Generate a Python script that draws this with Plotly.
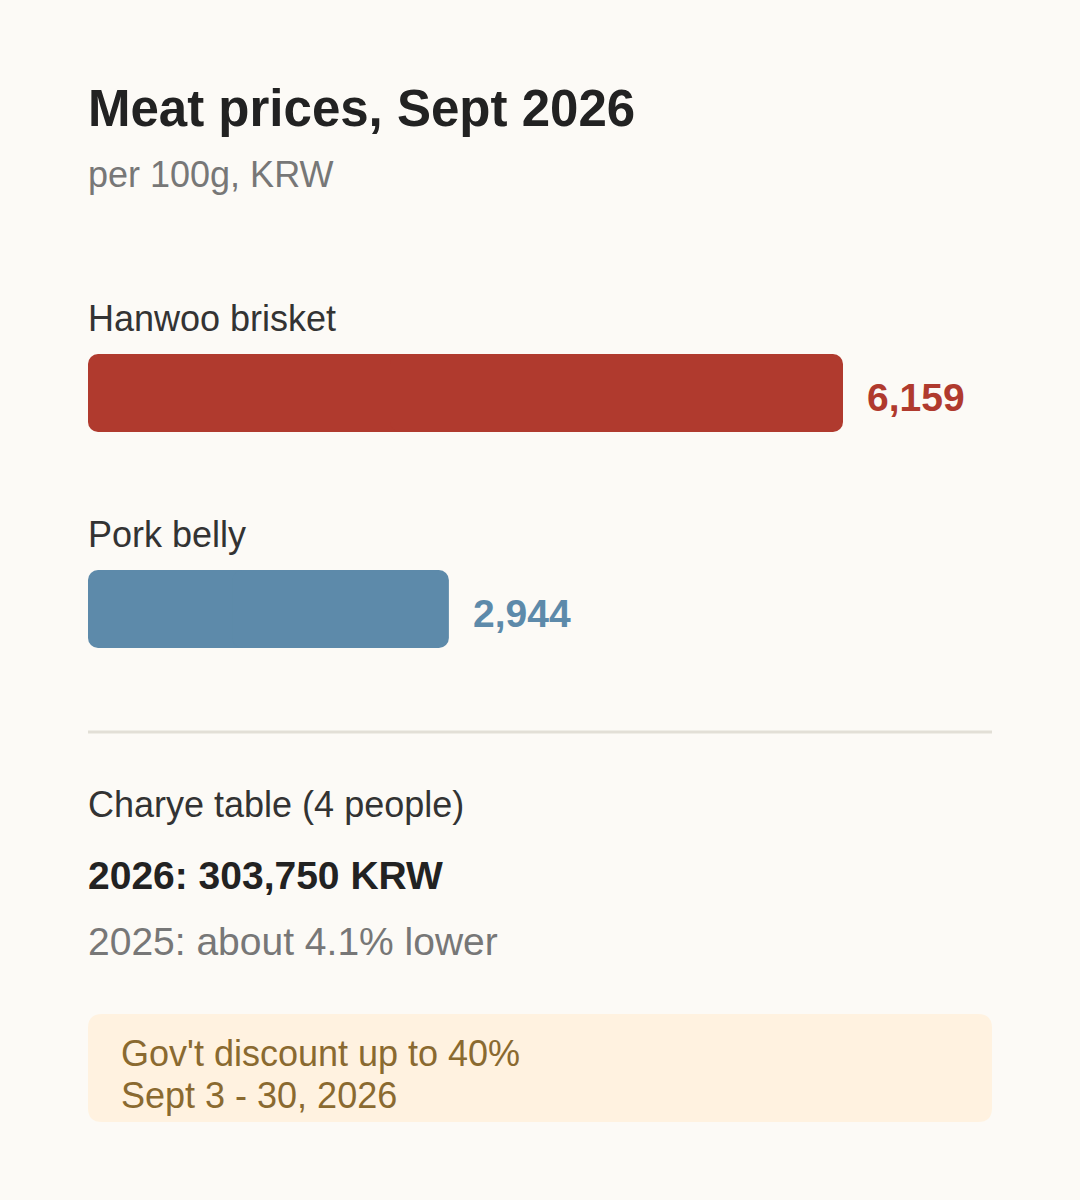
import plotly.graph_objects as go

# data
meats = ["Hanwoo brisket", "Pork belly"]
prices = [6159, 2944]
bar_colors = ["#b03a2e", "#5d8aaa"]

title = "Meat prices, Sept 2026"
subtitle = "per 100g, KRW"
table_label = "Charye table (4 people)"
table_2026 = "2026: 303,750 KRW"
table_2025 = "2025: about 4.1% lower"
discount_lines = ["Gov't discount up to 40%", "Sept 3 - 30, 2026"]

W, H = 1080, 1200
FONT = "Liberation Sans, Arial, sans-serif"
BG = "#fcfaf6"


def px(x):
    return x / W


def py(y):
    return 1 - y / H


# bar area: pixels 88..992 horizontally, 300..700 vertically
x_left, x_right = 88, 992
y_top, y_bot = 300, 700
step = 216          # px between bar centres
first_centre = 393
x_max = prices[0] * (x_right - x_left) / 755.0

top_val = -(first_centre - y_top) / step
bot_val = top_val + (y_bot - y_top) / step

rows = list(range(len(meats)))
fig = go.Figure()
# plotly only rounds the far end of a bar, so each bar is drawn as two
# overlapping halves growing away from the middle -> all corners rounded
fig.add_trace(go.Bar(
    x=[-p * 0.6 for p in prices], base=[p * 0.6 for p in prices],
    y=rows, orientation="h", width=78 / step,
    marker=dict(color=bar_colors, line=dict(width=0)),
    hoverinfo="skip",
))
fig.add_trace(go.Bar(
    x=[p * 0.6 for p in prices], base=[p * 0.4 for p in prices],
    y=rows, orientation="h", width=78 / step,
    marker=dict(color=bar_colors, line=dict(width=0)),
    hoverinfo="skip",
))

annotations = []
for i, (name, val, col) in enumerate(zip(meats, prices, bar_colors)):
    annotations.append(dict(
        x=0, y=i, xref="x", yref="y", xshift=-2, yshift=75, text=name,
        xanchor="left", yanchor="middle", showarrow=False,
        font=dict(family=FONT, size=36, color="#333333"),
    ))
    annotations.append(dict(
        x=val, y=i, xref="x", yref="y", xshift=22, yshift=-4,
        text="<b>{:,}</b>".format(val),
        xanchor="left", yanchor="middle", showarrow=False,
        font=dict(family=FONT, size=39, color=col),
    ))


def text_at(y, text, size, color, x=86):
    annotations.append(dict(
        x=px(x), y=py(y), xref="paper", yref="paper", text=text,
        xanchor="left", yanchor="middle", showarrow=False,
        font=dict(family=FONT, size=size, color=color),
    ))


text_at(109, "<b>" + title + "</b>", 51, "#222222")
text_at(174, subtitle, 36, "#777777")
text_at(804, table_label, 36, "#333333")
text_at(875, "<b>" + table_2026 + "</b>", 39, "#222222")
text_at(941, table_2025, 39, "#777777")
text_at(1053, discount_lines[0], 36, "#8a6a30", x=119)
text_at(1095, discount_lines[1], 36, "#8a6a30", x=119)


def rounded_rect(x0, y0, x1, y1, r):
    # path in paper coordinates, built from pixel corners
    pts = [
        f"M {px(x0 + r)},{py(y0)}",
        f"L {px(x1 - r)},{py(y0)}",
        f"Q {px(x1)},{py(y0)} {px(x1)},{py(y0 + r)}",
        f"L {px(x1)},{py(y1 - r)}",
        f"Q {px(x1)},{py(y1)} {px(x1 - r)},{py(y1)}",
        f"L {px(x0 + r)},{py(y1)}",
        f"Q {px(x0)},{py(y1)} {px(x0)},{py(y1 - r)}",
        f"L {px(x0)},{py(y0 + r)}",
        f"Q {px(x0)},{py(y0)} {px(x0 + r)},{py(y0)}",
        "Z",
    ]
    return " ".join(pts)


shapes = [
    dict(type="line", xref="paper", yref="paper",
         x0=px(88), x1=px(992), y0=py(732), y1=py(732),
         line=dict(color="#e2dfd6", width=3)),
    dict(type="path", xref="paper", yref="paper",
         path=rounded_rect(88, 1014, 992, 1122, 14),
         fillcolor="#fff2e0", line=dict(width=0), layer="below"),
]

fig.update_layout(
    width=W, height=H,
    margin=dict(l=0, r=0, t=0, b=0),
    paper_bgcolor=BG,
    plot_bgcolor="rgba(0,0,0,0)",
    showlegend=False,
    barmode="overlay",
    barcornerradius=10,
    xaxis=dict(domain=[px(x_left), px(x_right)], range=[0, x_max],
               visible=False, fixedrange=True),
    yaxis=dict(domain=[py(y_bot), py(y_top)], range=[bot_val, top_val],
               visible=False, fixedrange=True),
    annotations=annotations,
    shapes=shapes,
)

fig.write_html(
    "out.html",
    config={"displayModeBar": False},
    post_script=f"document.body.style.margin='0';"
                f"document.body.style.background='{BG}';",
)
